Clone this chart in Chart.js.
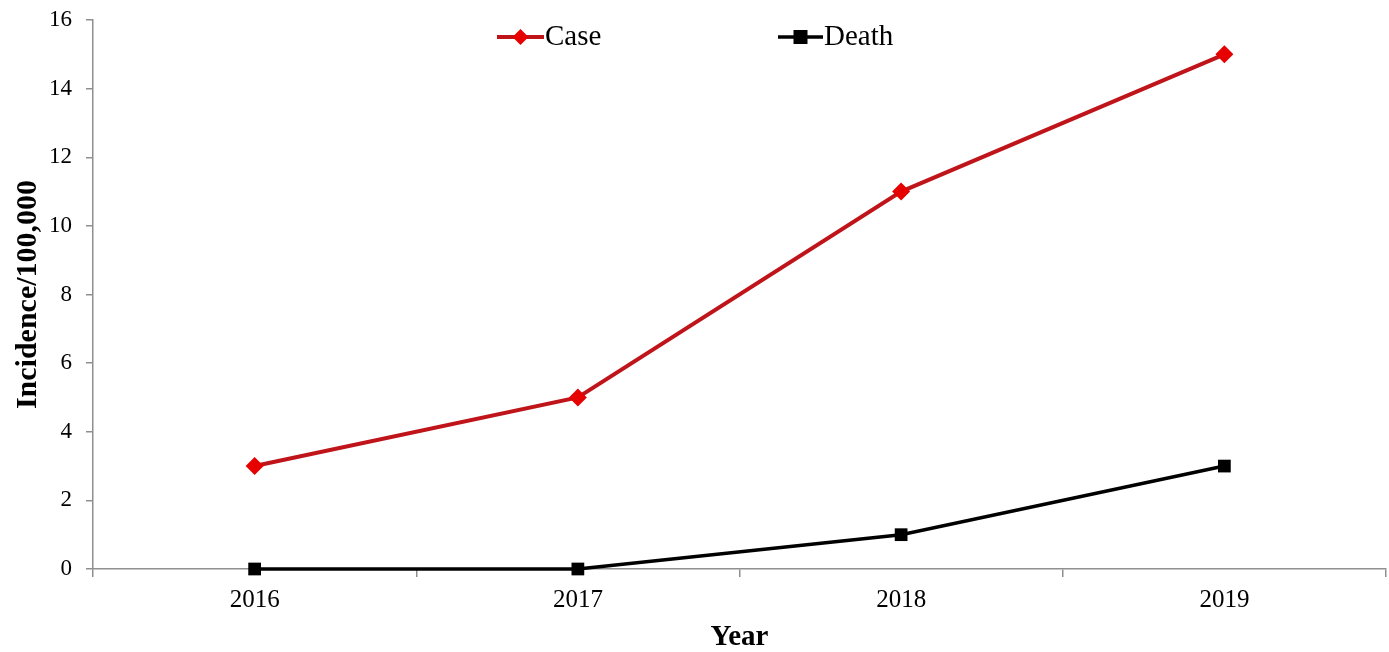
<!DOCTYPE html>
<html>
<head>
<meta charset="utf-8">
<script src="https://cdn.jsdelivr.net/npm/chart.js@4"></script>
<style>
html,body{margin:0;padding:0;background:#fff;overflow:hidden;width:1389px;height:652px;}
#wrap{width:1395px;height:652px;position:relative;}
canvas{display:block;}
</style>
</head>
<body>
<div id="wrap"><canvas id="c"></canvas></div>
<script>
const years = ['2016', '2017', '2018', '2019'];
const caseValues = [3, 5, 11, 15];
const deathValues = [0, 0, 1, 3];
const seriesNames = ['Case', 'Death'];
const yTitle = 'Incidence/100,000';
const xTitle = 'Year';

const SERIF = '"Liberation Serif", "Times New Roman", serif';
const AXIS = '#8f8f8f';

const legendPlugin = {
  id: 'customLegend',
  afterDraw(chart) {
    const ctx = chart.ctx;
    const items = [
      {name: seriesNames[0], x0: 497, x1: 544, line: '#c0141b', lw: 4, marker: 'diamond', fill: '#e60000'},
      {name: seriesNames[1], x0: 778, x1: 823, line: '#000', lw: 3.5, marker: 'square', fill: '#000'}
    ];
    const y = 37;
    ctx.save();
    items.forEach(it => {
      ctx.strokeStyle = it.line;
      ctx.lineWidth = it.lw;
      ctx.beginPath();
      ctx.moveTo(it.x0, y); ctx.lineTo(it.x1, y); ctx.stroke();
      const cx = (it.x0 + it.x1) / 2;
      ctx.fillStyle = it.fill;
      if (it.marker === 'diamond') {
        ctx.beginPath();
        ctx.moveTo(cx, y - 8); ctx.lineTo(cx + 8, y); ctx.lineTo(cx, y + 8); ctx.lineTo(cx - 8, y);
        ctx.closePath(); ctx.fill();
      } else {
        ctx.fillRect(cx - 7, y - 7, 14, 14);
      }
      ctx.fillStyle = '#000';
      ctx.font = '29px ' + SERIF;
      ctx.textBaseline = 'middle';
      ctx.textAlign = 'left';
      ctx.fillText(it.name, it.x1 + 1, y);
    });
    ctx.restore();
  }
};

new Chart(document.getElementById('c'), {
  type: 'line',
  data: {
    labels: years,
    datasets: [
      {
        label: seriesNames[0],
        data: caseValues,
        borderColor: '#c0141b',
        backgroundColor: '#e60000',
        borderWidth: 4,
        pointStyle: 'rectRot',
        pointRadius: 9,
        pointBorderWidth: 0,
        pointBackgroundColor: '#e60000',
        tension: 0,
        clip: false
      },
      {
        label: seriesNames[1],
        data: deathValues,
        borderColor: '#000',
        backgroundColor: '#000',
        borderWidth: 3.5,
        pointStyle: 'rect',
        pointRadius: 9,
        pointBorderWidth: 0,
        pointBackgroundColor: '#000',
        tension: 0,
        clip: false
      }
    ]
  },
  options: {
    responsive: true,
    maintainAspectRatio: false,
    animation: false,
    devicePixelRatio: 1,
    layout: {padding: {top: 20, right: 0, left: 0, bottom: 0}},
    plugins: {
      legend: {display: false},
      tooltip: {enabled: false}
    },
    scales: {
      x: {
        offset: true,
        grid: {
          display: true,
          offset: true,
          drawOnChartArea: false,
          drawTicks: true,
          tickLength: 8,
          color: AXIS,
          lineWidth: 1.5
        },
        border: {display: true, color: AXIS, width: 1.5},
        ticks: {color: '#000', font: {family: SERIF, size: 25}, padding: 8, maxRotation: 0},
        title: {display: true, text: xTitle, color: '#000', font: {family: SERIF, size: 29, weight: 'bold'}, padding: {top: 6, bottom: -3}},
        afterFit(scale) {
          scale.height = 83;
          scale.paddingLeft = 0; scale.paddingRight = 0;
        }
      },
      y: {
        min: 0,
        max: 16,
        ticks: {stepSize: 2, color: '#000', font: {family: SERIF, size: 23}, padding: 14},
        grid: {
          display: true,
          drawOnChartArea: false,
          drawTicks: true,
          tickLength: 7,
          color: AXIS,
          lineWidth: 1.5
        },
        border: {display: true, color: AXIS, width: 1.5},
        title: {display: true, text: yTitle, color: '#000', font: {family: SERIF, size: 30, weight: 'bold'}, padding: {top: 10, bottom: 0}},
        afterFit(scale) {
          scale.width = 93;
          scale.paddingTop = 0; scale.paddingBottom = 0;
        }
      }
    }
  },
  plugins: [legendPlugin]
});
</script>
</body>
</html>
